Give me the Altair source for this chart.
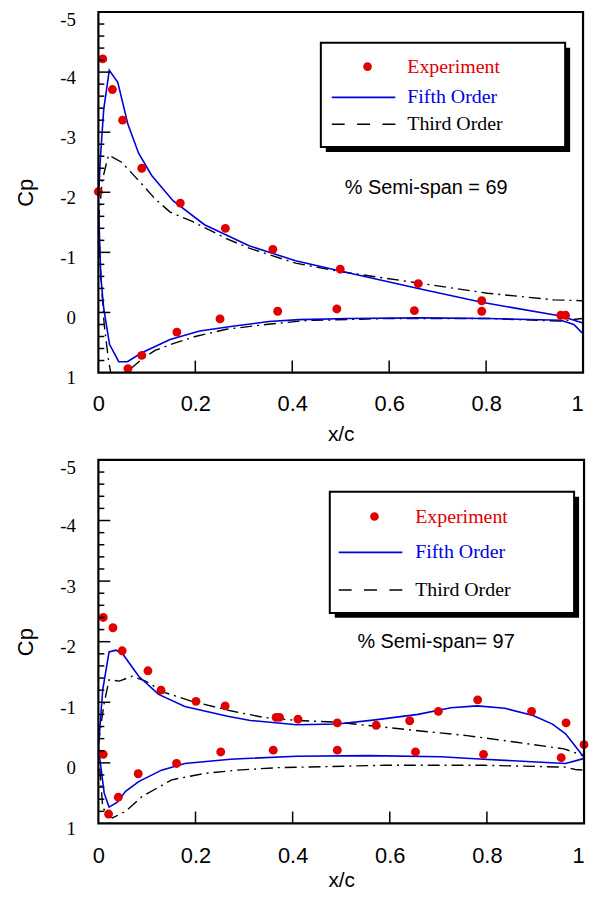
import altair as alt
import pandas as pd

# ---------------- data: 69 % semi-span ----------------
exp69_x = [0.0, 0.009, 0.029, 0.05, 0.0895, 0.169, 0.262, 0.36, 0.499, 0.66, 0.791, 0.954, 0.964,
           0.061, 0.0895, 0.162, 0.251, 0.37, 0.492, 0.652, 0.791]
exp69_cp = [-2.01, -4.22, -3.71, -3.20, -2.40, -1.82, -1.40, -1.05, -0.72, -0.48, -0.195, 0.047, 0.047,
            0.934, 0.714, 0.327, 0.107, -0.02, -0.058, -0.03, -0.02]

fifth69_up_x = [0.0, 0.004, 0.011, 0.0225, 0.04, 0.061, 0.083, 0.11, 0.154, 0.219, 0.311, 0.407, 0.499,
                0.66, 0.791, 0.954, 0.998]
fifth69_up_cp = [-1.84, -2.55, -3.38, -4.03, -3.83, -3.13, -2.65, -2.28, -1.86, -1.46, -1.11, -0.86, -0.69,
                 -0.40, -0.17, 0.06, 0.17]
fifth69_lo_x = [0.0, 0.005, 0.011, 0.023, 0.042, 0.06, 0.0895, 0.148, 0.209, 0.277, 0.352, 0.414, 0.516,
                0.667, 0.803, 0.954, 0.981, 0.998]
fifth69_lo_cp = [-1.84, -0.6, -0.07, 0.53, 0.82, 0.82, 0.67, 0.45, 0.31, 0.23, 0.15, 0.12, 0.10,
                 0.09, 0.10, 0.13, 0.20, 0.34]

third69_up_x = [0.0, 0.008, 0.021, 0.048, 0.086, 0.117, 0.148, 0.195, 0.264, 0.311, 0.407, 0.499, 0.66,
                0.803, 0.94, 0.998]
third69_up_cp = [-1.5, -2.2, -2.62, -2.5, -2.17, -1.89, -1.67, -1.51, -1.23, -1.07, -0.82, -0.68, -0.49,
                 -0.32, -0.21, -0.195]
third69_lo_x = [0.0, 0.006, 0.012, 0.021, 0.03, 0.05, 0.062, 0.0895, 0.117, 0.154, 0.2, 0.264, 0.346,
                0.428, 0.598, 0.803, 0.954, 0.998]
third69_lo_cp = [-1.5, -0.5, 0.2, 0.8, 1.2, 1.2, 0.97, 0.78, 0.63, 0.52, 0.40, 0.28, 0.20,
                 0.135, 0.10, 0.10, 0.145, 0.10]

# ---------------- data: 97 % semi-span ----------------
exp97_x = [0.010, 0.030, 0.049, 0.102, 0.129, 0.201, 0.261, 0.366, 0.373, 0.411, 0.492, 0.572, 0.641,
           0.70, 0.781, 0.892, 0.963, 1.0,
           0.01, 0.021, 0.041, 0.082, 0.161, 0.252, 0.36, 0.492, 0.653, 0.793, 0.953]
exp97_cp = [-2.40, -2.23, -1.85, -1.52, -1.20, -1.015, -0.94, -0.75, -0.75, -0.72, -0.66, -0.62, -0.695,
            -0.85, -1.04, -0.85, -0.66, -0.30,
            -0.14, 0.845, 0.567, 0.18, 0.01, -0.18, -0.21, -0.21, -0.18, -0.14, -0.085]

fifth97_up_x = [0.0, 0.009, 0.022, 0.036, 0.049, 0.083, 0.124, 0.178, 0.266, 0.313, 0.408, 0.492, 0.57,
                0.658, 0.726, 0.78, 0.837, 0.895, 0.935, 0.962, 0.999]
fifth97_up_cp = [-0.25, -1.21, -1.83, -1.86, -1.81, -1.43, -1.13, -0.93, -0.77, -0.70, -0.63, -0.64, -0.71,
                 -0.80, -0.91, -0.94, -0.90, -0.78, -0.64, -0.48, -0.10]
fifth97_lo_x = [0.0, 0.012, 0.022, 0.039, 0.056, 0.083, 0.130, 0.178, 0.272, 0.408, 0.556, 0.705, 0.793,
                0.962, 0.999]
fifth97_lo_cp = [-0.25, 0.50, 0.73, 0.65, 0.47, 0.31, 0.12, 0.01, -0.06, -0.11, -0.12, -0.10, -0.06,
                 0.01, -0.07]

third97_up_x = [0.0, 0.005, 0.012, 0.022, 0.043, 0.07, 0.097, 0.137, 0.191, 0.272, 0.34, 0.408, 0.492,
                0.658, 0.759, 0.861, 0.959, 0.999]
third97_up_cp = [-0.3, -0.61, -0.99, -1.37, -1.35, -1.43, -1.35, -1.16, -1.02, -0.86, -0.75, -0.70, -0.67,
                 -0.53, -0.45, -0.34, -0.23, -0.12]
third97_lo_x = [0.0, 0.004, 0.009, 0.029, 0.056, 0.09, 0.151, 0.218, 0.286, 0.367, 0.59, 0.793, 0.962,
                0.982, 0.999]
third97_lo_cp = [-0.3, 0.2, 0.745, 0.91, 0.80, 0.555, 0.28, 0.175, 0.12, 0.08, 0.04, 0.04, 0.07,
                 0.11, 0.12]

y_major = [-5, -4, -3, -2, -1, 0, 1]
y_minor = [round(-5 + 0.2 * i, 1) for i in range(31) if i % 5 != 0]
x_major = [0, 0.2, 0.4, 0.6, 0.8, 1]
x_inner = [0.2, 0.4, 0.6, 0.8]

RED = "#e00000"
BLUE = "#0000dd"
SERIF = "Liberation Serif"
SANS = "Liberation Sans"

XS = alt.Scale(domain=[0, 1], nice=False, zero=False)
YS = alt.Scale(domain=[-5, 1], reverse=True, nice=False, zero=False)


def curve(xs, cps, surface):
    return pd.DataFrame({"x": xs, "cp": cps, "surface": surface, "i": range(len(xs))})


def panel(W, H, exp_x, exp_cp, f_up, f_lo, t_up, t_lo, leg, label_text, label_pos, xlab_pad, xtitle_pad):
    xenc = alt.X("x:Q", scale=XS, axis=alt.Axis(
        values=x_major, format="~g", ticks=False, domain=False, grid=False,
        labelFont=SANS, labelFontSize=22, labelPadding=xlab_pad, labelColor="black",
        labelFlush=False,
        labelAlign={"condition": {"test": "datum.value >= 1", "value": "right"}, "value": "center"},
        title="x/c", titleFont=SANS, titleFontSize=21,
        titleFontWeight="normal", titleColor="black", titlePadding=xtitle_pad))
    yenc = alt.Y("cp:Q", scale=YS, axis=alt.Axis(
        values=y_major, ticks=False, domain=False, grid=False,
        labelExpr="(datum.value < 0 ? '-' : '') + abs(datum.value)",
        labelFont=SERIF, labelFontSize=19, labelPadding=23,
        labelOffset={"condition": {"test": "datum.value <= -5", "value": 8}, "value": 5},
        labelColor="black",
        title="Cp", titleFont=SANS, titleFontSize=22, titleFontWeight="normal",
        titleColor="black", titlePadding=22))

    fifth = pd.concat([curve(*f_up, "upper"), curve(*f_lo, "lower")])
    third = pd.concat([curve(*t_up, "upper"), curve(*t_lo, "lower")])
    exp = pd.DataFrame({"x": exp_x, "cp": exp_cp})

    base_x = alt.X("x:Q", scale=XS)
    base_y = alt.Y("cp:Q", scale=YS)

    third_l = alt.Chart(third).mark_line(color="black", strokeWidth=1.4, strokeDash=[12, 5, 2, 5],
                                         clip=True).encode(
        x=xenc, y=yenc, detail="surface:N", order="i:Q")
    fifth_l = alt.Chart(fifth).mark_line(color=BLUE, strokeWidth=1.6, clip=True).encode(
        x=base_x, y=base_y, detail="surface:N", order="i:Q")
    pts = alt.Chart(exp).mark_circle(color=RED, size=80, opacity=1).encode(x=base_x, y=base_y)

    ymaj = alt.Chart(pd.DataFrame({"cp": y_major[1:-1]})).mark_rule(color="black", strokeWidth=1.5).encode(
        y=base_y, x=alt.value(0), x2=alt.value(12))
    ymin = alt.Chart(pd.DataFrame({"cp": y_minor})).mark_rule(color="black", strokeWidth=1.5).encode(
        y=base_y, x=alt.value(0), x2=alt.value(6))
    xmaj = alt.Chart(pd.DataFrame({"x": x_inner})).mark_rule(color="black", strokeWidth=1.5).encode(
        x=base_x, y=alt.value(H), y2=alt.value(H - 12))

    one = alt.Data(values=[{"a": 1}])
    frame = alt.Chart(one).mark_rect(fill=None, stroke="black", strokeWidth=2.2).encode(
        x=alt.value(0), x2=alt.value(W), y=alt.value(0), y2=alt.value(H))
    bx0, by0, bx1, by1 = leg["box"]
    shadow = alt.Chart(one).mark_rect(color="black").encode(
        x=alt.value(bx0 + 5), x2=alt.value(bx1 + 5), y=alt.value(by0 + 5), y2=alt.value(by1 + 5))
    box = alt.Chart(one).mark_rect(fill="white", stroke="black", strokeWidth=2).encode(
        x=alt.value(bx0), x2=alt.value(bx1), y=alt.value(by0), y2=alt.value(by1))
    mx, my = leg["marker"]
    lmark = alt.Chart(one).mark_circle(color=RED, size=75, opacity=1).encode(
        x=alt.value(mx), y=alt.value(my))
    lx0, lx1 = leg["line"]
    r1, r2, r3 = leg["rows"]
    l5 = alt.Chart(one).mark_rule(color=BLUE, strokeWidth=1.8).encode(
        x=alt.value(lx0), x2=alt.value(lx1), y=alt.value(r2))
    l3 = alt.Chart(one).mark_rule(color="black", strokeWidth=1.6, strokeDash=[13, 12.5]).encode(
        x=alt.value(lx0), x2=alt.value(lx1), y=alt.value(r3))
    tx = leg["text"]
    t1 = alt.Chart(one).mark_text(align="left", baseline="middle", font=SERIF, fontSize=20,
                                  color=RED).encode(x=alt.value(tx), y=alt.value(r1), text=alt.value("Experiment"))
    t2 = alt.Chart(one).mark_text(align="left", baseline="middle", font=SERIF, fontSize=20,
                                  color=BLUE).encode(x=alt.value(tx), y=alt.value(r2), text=alt.value("Fifth Order"))
    t3 = alt.Chart(one).mark_text(align="left", baseline="middle", font=SERIF, fontSize=20,
                                  color="black").encode(x=alt.value(tx), y=alt.value(r3), text=alt.value("Third Order"))
    lab = alt.Chart(one).mark_text(align="center", baseline="middle", font=SANS, fontSize=20,
                                   color="black").encode(x=alt.value(label_pos[0]), y=alt.value(label_pos[1]),
                                                         text=alt.value(label_text))

    return alt.layer(third_l, fifth_l, pts, ymaj, ymin, xmaj, frame, shadow, box, lmark, l5, l3,
                     t1, t2, t3, lab).properties(width=W, height=H)


top = panel(488, 363, exp69_x, exp69_cp,
            (fifth69_up_x, fifth69_up_cp), (fifth69_lo_x, fifth69_lo_cp),
            (third69_up_x, third69_up_cp), (third69_lo_x, third69_lo_cp),
            {"box": (224, 31, 470, 136), "marker": (271, 55), "line": (235, 299),
             "rows": (55, 86, 113), "text": 311},
            "% Semi-span = 69", (330, 177), 21, 9)

bottom = panel(489, 366, exp97_x, exp97_cp,
               (fifth97_up_x, fifth97_up_cp), (fifth97_lo_x, fifth97_lo_cp),
               (third97_up_x, third97_up_cp), (third97_lo_x, third97_lo_cp),
               {"box": (233, 32, 479, 154), "marker": (278, 57), "line": (242, 306),
                "rows": (57, 93, 131), "text": 319},
               "% Semi-span= 97", (340, 183), 22, 3)

chart = alt.vconcat(top, bottom, spacing=88, bounds="flush").properties(
    padding={"left": 7, "top": -1, "right": 0, "bottom": 1},
    background="white"
).configure_view(stroke=None)

chart.save("out.html", embed_options={"renderer": "svg", "actions": False})
